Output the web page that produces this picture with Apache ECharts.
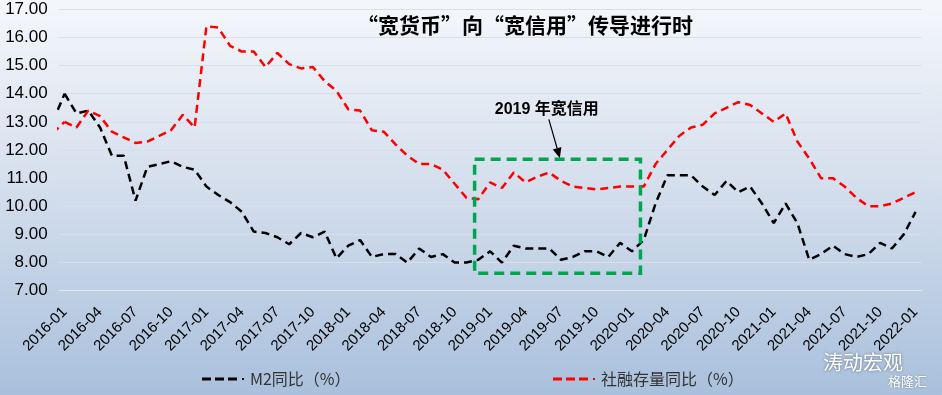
<!DOCTYPE html>
<html><head><meta charset="utf-8">
<script src="https://cdn.jsdelivr.net/npm/echarts@6/dist/echarts.min.js"></script>
<style>html,body{margin:0;padding:0;background:#fff;}#c{width:942px;height:395px;}</style>
</head><body><div id="c"></div>
<script>
const TITLE = '“宽货币”向“宽信用”传导进行时';
const NOTE = '2019 年宽信用';
const SERIES_NAMES = ['M2同比（%）', '社融存量同比（%）'];

const months = [
 '2016-01','2016-02','2016-03','2016-04','2016-05','2016-06','2016-07','2016-08','2016-09','2016-10','2016-11','2016-12',
 '2017-01','2017-02','2017-03','2017-04','2017-05','2017-06','2017-07','2017-08','2017-09','2017-10','2017-11','2017-12',
 '2018-01','2018-02','2018-03','2018-04','2018-05','2018-06','2018-07','2018-08','2018-09','2018-10','2018-11','2018-12',
 '2019-01','2019-02','2019-03','2019-04','2019-05','2019-06','2019-07','2019-08','2019-09','2019-10','2019-11','2019-12',
 '2020-01','2020-02','2020-03','2020-04','2020-05','2020-06','2020-07','2020-08','2020-09','2020-10','2020-11','2020-12',
 '2021-01','2021-02','2021-03','2021-04','2021-05','2021-06','2021-07','2021-08','2021-09','2021-10','2021-11','2021-12',
 '2022-01'
];

const m2 = [
 14.0, 13.3, 13.4, 12.8, 11.8, 11.8, 10.2, 11.4, 11.5, 11.6, 11.4, 11.3,
 10.7, 10.4, 10.15, 9.8, 9.1, 9.05, 8.9, 8.65, 9.05, 8.9, 9.1, 8.15,
 8.6, 8.8, 8.2, 8.3, 8.3, 8.0, 8.5, 8.2, 8.3, 8.0, 8.0, 8.1,
 8.4, 8.0, 8.6, 8.5, 8.5, 8.5, 8.1, 8.2, 8.4, 8.4, 8.2, 8.7,
 8.4, 8.8, 10.1, 11.1, 11.1, 11.1, 10.7, 10.4, 10.9, 10.5, 10.7, 10.1,
 9.4, 10.1, 9.4, 8.1, 8.3, 8.6, 8.3, 8.2, 8.3, 8.7, 8.5, 9.0,
 9.8
];

const tsf = [
 13.0, 12.8, 13.4, 13.2, 12.65, 12.45, 12.25, 12.3, 12.5, 12.7, 13.25, 12.8,
 16.4, 16.35, 15.7, 15.5, 15.5, 14.95, 15.45, 15.05, 14.9, 14.95, 14.45, 14.1,
 13.45, 13.4, 12.7, 12.65, 12.2, 11.8, 11.5, 11.5, 11.3, 10.8, 10.3, 10.25,
 10.85, 10.65, 11.2, 10.85, 11.05, 11.2, 10.9, 10.7, 10.65, 10.6, 10.65, 10.7,
 10.7, 10.7, 11.5, 12.0, 12.5, 12.8, 12.9, 13.3, 13.5, 13.7, 13.6, 13.3,
 13.0, 13.3, 12.3, 11.7, 11.0, 11.0, 10.7, 10.3, 10.0, 10.0, 10.1, 10.3,
 10.5
];

// value of the month before the first category (line enters from the left edge)
const m2Prev = 13.0;
const tsfPrev = 12.6;

const chart = echarts.init(document.getElementById('c'));

function lineSeries(name, data, color, xIdx) {
  return {
    name: name, type: 'line', data: data, xAxisIndex: xIdx,
    symbol: 'none', showSymbol: false, clip: true,
    lineStyle: { color: color, width: 2.5, type: [8, 5] },
    itemStyle: { color: color }, z: 3
  };
}

const legendText = { fontFamily: 'Noto Sans CJK SC', fontSize: 16, color: '#333' };
const dashIcon = 'path://M0,0h9v3h-9z M13,0h9v3h-9z M26,0h9v3h-9z M40,0.5h2v2h-2z';

chart.setOption({
  animation: false,
  backgroundColor: new echarts.graphic.LinearGradient(0, 0, 0, 1, [
    { offset: 0, color: '#f5f7fb' },
    { offset: 0.5, color: '#d2ddec' },
    { offset: 1, color: '#a9c0dc' }
  ]),
  title: {
    text: TITLE, left: 352, top: 10,
    textStyle: { fontFamily: 'Noto Sans CJK SC', fontSize: 21, fontWeight: 'bold', color: '#000' }
  },
  grid: { left: 58.7, right: 20.5, top: 9.3, bottom: 104.3, containLabel: false },
  xAxis: [{
    type: 'category', data: months, boundaryGap: true,
    axisLine: { lineStyle: { color: '#e2e8f0', width: 1 } },
    axisTick: { interval: 2, length: 5, lineStyle: { color: '#e2e8f0' } },
    axisLabel: { interval: 2, rotate: 45, fontFamily: 'Liberation Sans', fontSize: 15, color: '#000', margin: 19 },
    splitLine: { show: false }
  }, {
    type: 'value', min: -0.5, max: 72.5, show: false
  }],
  yAxis: {
    type: 'value', min: 7, max: 17, interval: 1,
    axisLine: { show: false }, axisTick: { show: false },
    axisLabel: { formatter: v => v.toFixed(2), fontFamily: 'Liberation Sans', fontSize: 17, color: '#000', margin: 11 },
    splitLine: { lineStyle: { color: '#d8dfe9', width: 1 } }
  },
  legend: [
    { data: [{ name: SERIES_NAMES[0], icon: dashIcon }], left: 197, top: 366, itemWidth: 44, itemHeight: 3, textStyle: legendText },
    { data: [{ name: SERIES_NAMES[1], icon: dashIcon }], left: 548, top: 366, itemWidth: 44, itemHeight: 3, textStyle: legendText }
  ],
  series: [
    lineSeries(SERIES_NAMES[0], m2, '#000000', 0),
    lineSeries(SERIES_NAMES[1], tsf, '#ff0000', 0),
    lineSeries(null, [[-1, m2Prev], [0, m2[0]]], '#000000', 1),
    lineSeries(null, [[-1, tsfPrev], [0, tsf[0]]], '#ff0000', 1)
  ]
});

// annotation placed in data coordinates (fractional month index, value)
function px(i, v) { return chart.convertToPixel({ seriesIndex: 2 }, [i, v]); }
const boxTL = px(34.69, 11.67), boxBR = px(48.72, 7.62);
const arrS = px(40.97, 13.09), arrE = px(41.9, 11.72);
const txt = px(40.8, 13.45);
const dx = arrE[0] - arrS[0], dy = arrE[1] - arrS[1];
const len = Math.hypot(dx, dy), ux = dx / len, uy = dy / len;
const hl = 10, hw = 4.5;
const base = [arrE[0] - ux * hl, arrE[1] - uy * hl];

chart.setOption({
  graphic: [
    { type: 'rect', z: 100, shape: { x: boxTL[0], y: boxTL[1], width: boxBR[0] - boxTL[0], height: boxBR[1] - boxTL[1] },
      style: { fill: 'none', stroke: '#00a550', lineWidth: 3.5, lineDash: [10, 6] } },
    { type: 'line', z: 100, shape: { x1: arrS[0], y1: arrS[1], x2: base[0], y2: base[1] },
      style: { stroke: '#000', lineWidth: 1.2 } },
    { type: 'polygon', z: 100, shape: { points: [arrE, [base[0] - uy * hw, base[1] + ux * hw], [base[0] + uy * hw, base[1] - ux * hw]] },
      style: { fill: '#000' } },
    { type: 'text', z: 100, x: txt[0], y: txt[1],
      style: { text: NOTE, align: 'center', verticalAlign: 'middle', fill: '#000',
               fontFamily: '"Liberation Sans","Noto Sans CJK SC"', fontSize: 16, fontWeight: 'bold' } },
    { type: 'text', z: 100, left: 823, top: 352,
      style: { text: '涛动宏观', fill: '#ffffff', fontFamily: 'Noto Sans CJK SC', fontSize: 20,
               textShadowColor: 'rgba(0,0,0,0.45)', textShadowBlur: 3 } },
    { type: 'text', z: 100, left: 888, top: 375,
      style: { text: '格隆汇', fill: '#ffffff', fontFamily: 'Noto Sans CJK SC', fontSize: 13,
               textShadowColor: 'rgba(0,0,0,0.35)', textShadowBlur: 2 } }
  ]
});
</script>
</body></html>
